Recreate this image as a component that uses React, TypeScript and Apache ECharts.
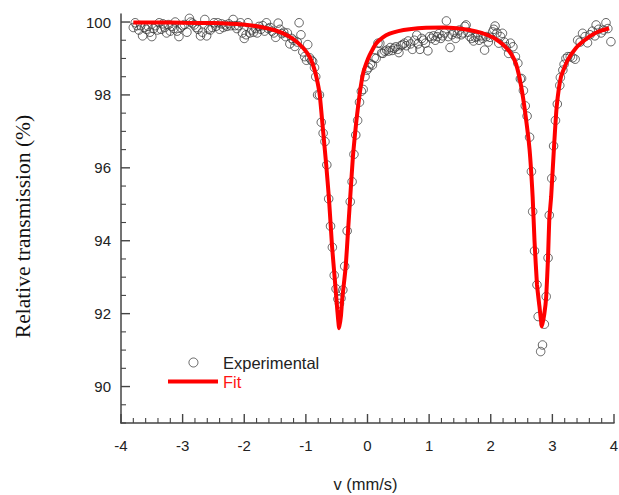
import React, { useEffect, useRef } from "react";
import * as echarts from "echarts";

const yMajor = [90, 92, 94, 96, 98, 100];
const yMinor = [89,89.5,90.5,91,91.5,92.5,93,93.5,94.5,95,95.5,96.5,97,97.5,98.5,99,99.5];
const xMajor = [-4,-3,-2,-1,0,1,2,3,4];
const xMinor = [-3.8,-3.6,-3.4,-3.2,-2.8,-2.6,-2.4,-2.2,-1.8,-1.6,-1.4,-1.2,-0.8,-0.6,-0.4,-0.2,0.2,0.4,0.6,0.8,1.2,1.4,1.6,1.8,2.2,2.4,2.6,2.8,3.2,3.4,3.6,3.8];

const experimental: number[][] = [
[-3.8,99.85],[-3.77,99.98],[-3.74,99.9],[-3.71,99.78],[-3.68,99.9],[-3.65,99.62],[-3.62,99.85],[-3.59,99.8],[-3.56,99.88],[-3.53,99.72],
[-3.5,99.6],[-3.47,99.82],[-3.44,99.9],[-3.41,99.78],[-3.38,99.98],[-3.35,99.8],[-3.32,99.95],[-3.29,99.85],[-3.26,99.7],[-3.23,99.93],
[-3.2,99.75],[-3.17,99.88],[-3.14,99.82],[-3.12,100],[-3.09,99.75],[-3.06,99.6],[-3.03,99.85],[-3,99.9],[-2.97,99.93],[-2.93,99.72],
[-2.89,100.1],[-2.87,100],[-2.84,99.97],[-2.81,99.92],[-2.78,99.85],[-2.75,99.8],[-2.71,99.62],[-2.68,99.72],[-2.64,100.07],[-2.61,99.62],
[-2.58,99.8],[-2.55,99.78],[-2.52,99.85],[-2.49,99.98],[-2.46,99.88],[-2.43,99.98],[-2.4,99.8],[-2.37,99.95],[-2.34,99.85],[-2.31,99.92],
[-2.28,99.88],[-2.25,99.95],[-2.22,99.9],[-2.18,100.07],[-2.15,99.9],[-2.12,99.82],[-2.09,99.9],[-2.06,99.98],[-2.03,99.7],[-2,99.55],
[-1.97,99.65],[-1.94,99.98],[-1.91,99.7],[-1.88,99.78],[-1.85,99.72],[-1.82,99.82],[-1.79,99.7],[-1.76,99.88],[-1.73,99.8],[-1.7,99.9],
[-1.67,99.75],[-1.64,99.98],[-1.61,99.82],[-1.58,99.85],[-1.55,99.75],[-1.52,99.7],[-1.49,99.58],[-1.45,99.97],[-1.42,99.8],[-1.39,99.68],
[-1.36,99.72],[-1.33,99.6],[-1.3,99.7],[-1.26,99.4],[-1.23,99.55],[-1.2,99.5],[-1.18,99.33],[-1.14,99.45],[-1.11,99.98],[-1.08,99.65],
[-1.05,99.18],[-1.02,99.05],[-0.99,98.95],[-0.97,99.38],[-0.94,99.02],[-0.91,98.95],[-0.89,98.92],[-0.86,98.75],[-0.84,98.5],[-0.81,98],
[-0.78,98],[-0.75,97.25],[-0.72,96.95],[-0.69,96.72],[-0.66,96.08],[-0.63,95.15],[-0.6,94.4],[-0.57,93.82],[-0.54,93.05],[-0.51,92.68],
[-0.48,92.4],[-0.455,92.28],[-0.43,92.42],[-0.4,92.65],[-0.37,93.3],[-0.33,94.27],[-0.28,95.07],[-0.25,95.62],[-0.22,96.37],[-0.19,96.9],
[-0.16,97.3],[-0.13,97.8],[-0.1,98.1],[-0.07,98.15],[-0.04,98.5],[-0.01,98.68],[0.02,98.75],[0.05,98.85],[0.08,98.82],[0.11,99.02],
[0.14,99],[0.17,99.42],[0.2,99.42],[0.23,99.15],[0.25,99.14],[0.28,99.2],[0.31,99.23],[0.34,99.2],[0.37,99.3],[0.4,99.22],
[0.43,99.28],[0.46,99.32],[0.49,99.25],[0.51,99.16],[0.54,99.35],[0.57,99.38],[0.6,99.42],[0.63,99.35],[0.66,99.48],[0.7,99.4],
[0.73,99.25],[0.76,99.5],[0.8,99.64],[0.82,99.4],[0.85,99.25],[0.88,99.55],[0.91,99.5],[0.94,99.42],[0.98,99.21],[1.01,99.6],
[1.04,99.55],[1.07,99.62],[1.1,99.5],[1.13,99.6],[1.16,99.68],[1.19,99.55],[1.22,99.62],[1.25,99.7],[1.28,100.03],[1.31,99.6],
[1.34,99.3],[1.37,99.65],[1.4,99.72],[1.43,99.55],[1.46,99.68],[1.49,99.78],[1.52,99.65],[1.55,99.7],[1.58,99.88],[1.6,99.92],
[1.63,99.72],[1.66,99.6],[1.69,99.55],[1.72,99.48],[1.75,99.58],[1.78,99.6],[1.81,99.5],[1.84,99.62],[1.87,99.55],[1.9,99.23],
[1.93,99.6],[1.96,99.45],[1.99,99.58],[2.03,99.73],[2.05,99.8],[2.07,99.89],[2.1,99.7],[2.13,99.42],[2.16,99.6],[2.19,99.69],
[2.22,99.45],[2.25,99.32],[2.29,99.14],[2.32,99.42],[2.36,99.32],[2.4,99.05],[2.44,98.87],[2.48,98.44],[2.5,98.45],[2.53,98.12],
[2.56,97.7],[2.59,97.42],[2.63,96.84],[2.66,95.9],[2.68,94.8],[2.71,93.72],[2.75,92.79],[2.77,91.92],[2.81,90.96],[2.84,91.14],
[2.87,91.71],[2.9,92.47],[2.93,93.53],[2.95,94.7],[2.99,95.71],[3.02,96.6],[3.05,97.3],[3.08,97.75],[3.12,98.26],[3.13,98.48],
[3.17,98.68],[3.19,98.84],[3.22,99],[3.25,99.05],[3.29,99.05],[3.33,99.02],[3.37,98.98],[3.41,99.5],[3.45,99.45],[3.49,99.69],
[3.53,99.6],[3.57,99.43],[3.61,99.65],[3.65,99.75],[3.69,99.62],[3.71,99.92],[3.75,99.8],[3.79,99.7],[3.83,99.78],[3.87,99.98],
[3.9,99.82],[3.95,99.46],
];

const fit: number[][] = [
[-3.8,99.99],[-3.4,99.99],[-3,99.98],[-2.5,99.97],[-2.02,99.93],[-1.75,99.87],[-1.48,99.76],[-1.3,99.63],[-1.15,99.46],[-1.04,99.28],[-0.94,99.05],
[-0.88,98.8],[-0.83,98.5],[-0.775,98],[-0.72,97],[-0.67,96.08],[-0.625,95.15],[-0.575,93.84],[-0.53,92.93],[-0.49,92.1],[-0.46,91.6],
[-0.43,91.95],[-0.41,92.4],[-0.353,93.3],[-0.315,94.3],[-0.28,95.2],[-0.235,96.35],[-0.18,97.3],[-0.125,98.05],[-0.07,98.6],[0.01,99],
[0.08,99.24],[0.145,99.42],[0.25,99.58],[0.36,99.68],[0.5,99.75],[0.68,99.8],[0.95,99.84],[1.22,99.85],[1.45,99.83],[1.65,99.78],
[1.85,99.7],[2.03,99.58],[2.15,99.45],[2.25,99.3],[2.34,99.1],[2.41,98.85],[2.49,98.27],[2.56,97.5],[2.63,96.5],[2.68,95.2],
[2.71,94],[2.75,92.8],[2.79,92.2],[2.83,91.65],[2.87,92],[2.9,92.47],[2.93,93.56],[2.95,94.6],[2.98,95.2],[3.03,96.67],
[3.07,97.68],[3.14,98.5],[3.25,98.96],[3.38,99.28],[3.5,99.47],[3.6,99.6],[3.75,99.74],[3.92,99.83],
];

const axisColor = "#444";
const yFloor = 89;
const xFloor = -4;

function tickSeries(name: string, values: number[], vertical: boolean, len: number, width: number) {
  return {
    name,
    type: "custom",
    silent: true,
    data: values.map((v) => (vertical ? [v, yFloor] : [xFloor, v])),
    encode: { x: 0, y: 1 },
    renderItem: (_params: any, api: any) => {
      const p = api.coord([api.value(0), api.value(1)]);
      return {
        type: "line",
        shape: vertical
          ? { x1: p[0], y1: p[1], x2: p[0], y2: p[1] - len }
          : { x1: p[0], y1: p[1], x2: p[0] + len, y2: p[1] },
        style: { stroke: axisColor, lineWidth: width },
      };
    },
  };
}

export default function App() {
  const ref = useRef<HTMLDivElement>(null);
  useEffect(() => {
    document.body.style.margin = "0";
    const chart = echarts.init(ref.current!, undefined, { renderer: "svg" });
    const tickStyle = { color: "#222", fontFamily: "Liberation Sans", fontSize: 15 };
    chart.setOption({
      animation: false,
      grid: { left: 121, right: 5, top: 14, bottom: 72, outerBoundsMode: "none" },
      legend: [
        {
          left: 188.5, top: 354, padding: 0, itemWidth: 9, itemHeight: 9,
          textStyle: { fontFamily: "Liberation Sans", fontSize: 16.5, color: "#222", padding: [0, 0, 0, 20] },
          data: [{ name: "Experimental", itemStyle: { borderWidth: 0.9 } }],
        },
        {
          left: 168, top: 373, padding: 0, itemWidth: 50, itemHeight: 4, icon: "rect",
          textStyle: { fontFamily: "Liberation Sans", fontSize: 16.5, color: "#ff1414" },
          data: ["Fit"],
        },
      ],
      xAxis: {
        type: "value", min: -4, max: 4, interval: 1,
        name: "v (mm/s)", nameLocation: "middle", nameGap: 52,
        nameTextStyle: { color: "#222", fontFamily: "Liberation Sans", fontSize: 16.5, padding: [0, 4, 0, 0] },
        splitLine: { show: false },
        axisLine: { show: true, onZero: false, lineStyle: { color: axisColor, width: 1.5 } },
        axisTick: { show: false },
        axisLabel: { margin: 15, ...tickStyle },
      },
      yAxis: {
        type: "value", min: 89, max: 100.22,
        name: "Relative transmission (%)", nameLocation: "middle", nameGap: 87,
        nameTextStyle: { color: "#111", fontFamily: "Liberation Serif", fontSize: 21.5, padding: [0, 16, 0, 0] },
        splitLine: { show: false },
        axisLine: { show: true, onZero: false, lineStyle: { color: axisColor, width: 1.5 } },
        axisTick: { show: false },
        axisLabel: { customValues: yMajor, margin: 10, ...tickStyle },
      },
      series: [
        tickSeries("xMajorTicks", xMajor, true, 9, 1.4),
        tickSeries("xMinorTicks", xMinor, true, 5, 1.1),
        tickSeries("yMajorTicks", yMajor, false, 9, 1.4),
        tickSeries("yMinorTicks", yMinor, false, 5, 1.1),
        {
          name: "Fit", type: "line", data: fit, symbol: "none", smooth: 0.15,
          lineStyle: { color: "#ff0000", width: 4 }, itemStyle: { color: "#ff0000" },
        },
        {
          name: "Experimental", type: "scatter", data: experimental, symbol: "circle", symbolSize: 8.5, clip: false,
          itemStyle: { color: "rgba(255,255,255,0)", borderColor: "#333", borderWidth: 0.9, opacity: 0.85 },
        },
      ],
    });
    return () => chart.dispose();
  }, []);
  return <div ref={ref} style={{ position: "absolute", left: 0, top: 0, width: 619, height: 495 }} />;
}
